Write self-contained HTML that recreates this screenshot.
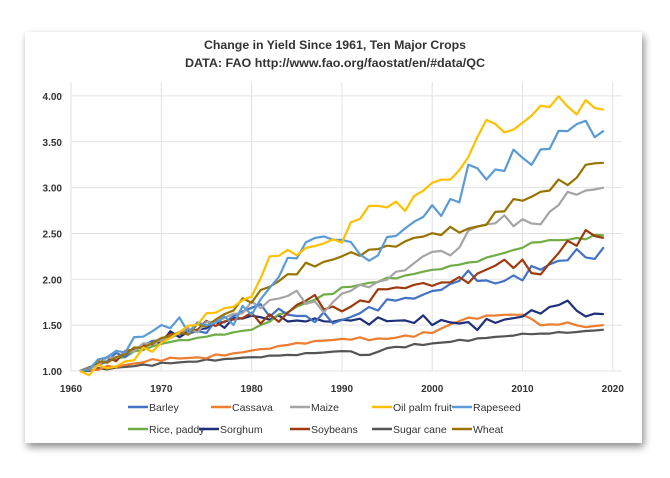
<!DOCTYPE html>
<html><head><meta charset="utf-8"><style>
html,body{margin:0;padding:0;background:#fff;width:670px;height:478px;overflow:hidden}
svg{display:block;font-family:"Liberation Sans",sans-serif}
</style></head><body>
<svg id="s" width="670" height="478" viewBox="0 0 670 478">
<defs><filter id="sh" x="-5%" y="-5%" width="110%" height="115%"><feDropShadow dx="2" dy="4" stdDeviation="4" flood-color="#000" flood-opacity="0.45"/></filter></defs>
<rect x="25" y="32" width="617" height="411" fill="#fff" filter="url(#sh)"/>
<text x="335" y="49" text-anchor="middle" font-size="12" font-weight="bold" fill="#333" textLength="262" lengthAdjust="spacingAndGlyphs">Change in Yield Since 1961, Ten Major Crops</text>
<text x="335" y="67" text-anchor="middle" font-size="12" font-weight="bold" fill="#333" textLength="300" lengthAdjust="spacingAndGlyphs">DATA: FAO http://www.fao.org/faostat/en/#data/QC</text>
<g id="grid" stroke="#e2e2e2" stroke-width="1"></g>
<g id="lab" font-size="10" font-weight="bold" fill="#333"></g>
<g id="ser" fill="none" stroke-width="2.2" stroke-linejoin="round"></g>
<g id="leg" font-size="10.5" fill="#333"></g>
</svg>
<script>
var X=function(y){return 71+(y-1960)*9.03},Y=function(v){return 371-(v-1)*91.7};
var ns="http://www.w3.org/2000/svg";
function el(p,t,a,txt){var e=document.createElementNS(ns,t);for(var k in a)e.setAttribute(k,a[k]);if(txt)e.textContent=txt;document.getElementById(p).appendChild(e);return e}
for(var v=1;v<=4.001;v+=0.5){el("grid","line",{x1:71,x2:622,y1:Y(v),y2:Y(v)});el("lab","text",{x:62,y:Y(v)+4,"text-anchor":"end"},v.toFixed(2))}
for(var y=1960;y<=2020;y+=10){el("grid","line",{x1:X(y),x2:X(y),y1:Y(4.15),y2:Y(1)});el("lab","text",{x:X(y),y:392,"text-anchor":"middle"},""+y)}
var S=[
["Barley","#4472C4",0.07,[1961,1,1970,1.35,1975,1.45,1980,1.7,1985,1.6,1990,1.55,1995,1.75,2000,1.85,2004,2.05,2007,1.95,2010,2.05,2014,2.2,2017,2.3,2018,2.2,2019,2.35]],
["Cassava","#ED7D31",0.02,[1961,1,1965,1.05,1970,1.13,1975,1.15,1980,1.22,1985,1.3,1990,1.35,1995,1.35,2000,1.42,2003,1.55,2006,1.6,2010,1.62,2012,1.5,2015,1.52,2017,1.48,2019,1.5]],
["Maize","#A5A5A5",0.06,[1961,1,1970,1.35,1975,1.5,1980,1.7,1985,1.85,1988,1.65,1990,1.85,1995,2.0,2000,2.3,2003,2.3,2004,2.55,2008,2.65,2012,2.6,2014,2.85,2016,2.95,2019,3.0]],
["Oil palm fruit","#FFC000",0.06,[1961,1,1965,1.05,1970,1.3,1975,1.6,1980,1.8,1982,2.25,1985,2.3,1990,2.45,1993,2.8,1997,2.8,2000,3.05,2003,3.15,2006,3.75,2008,3.6,2010,3.7,2012,3.87,2014,3.97,2016,3.8,2017,3.95,2019,3.85]],
["Rapeseed","#5B9BD5",0.1,[1961,1,1965,1.2,1970,1.5,1975,1.5,1980,1.65,1985,2.3,1987,2.45,1990,2.45,1993,2.2,1996,2.5,2000,2.75,2003,2.85,2004,3.25,2007,3.1,2009,3.4,2011,3.25,2013,3.5,2017,3.75,2018,3.55,2019,3.62]],
["Rice, paddy","#70AD47",0.02,[1961,1,1970,1.3,1980,1.45,1985,1.7,1990,1.9,1995,2.0,2000,2.1,2005,2.2,2010,2.35,2012,2.42,2015,2.43,2019,2.48]],
["Sorghum","#1F2F7A",0.06,[1961,1,1970,1.35,1980,1.6,1985,1.55,1990,1.55,1995,1.55,2000,1.55,2005,1.5,2010,1.6,2015,1.75,2017,1.6,2019,1.62]],
["Soybeans","#9E3A0E",0.07,[1961,1,1970,1.35,1975,1.5,1980,1.6,1983,1.55,1986,1.8,1990,1.65,1995,1.9,2000,1.95,2004,2.0,2008,2.2,2010,2.15,2012,2.05,2014,2.3,2017,2.5,2019,2.45]],
["Sugar cane","#555555",0.015,[1961,1,1970,1.08,1980,1.15,1985,1.18,1990,1.22,1993,1.17,1995,1.25,2000,1.3,2005,1.35,2010,1.4,2015,1.42,2019,1.45]],
["Wheat","#997300",0.06,[1961,1,1965,1.15,1970,1.35,1975,1.5,1980,1.8,1985,2.1,1990,2.25,1995,2.35,2000,2.5,2004,2.55,2006,2.6,2008,2.8,2011,2.9,2013,3.0,2016,3.1,2017,3.25,2019,3.27]]];
var order=[8,1,6,5,0,7,2,9,4,3];
order.forEach(function(i){var s=S[i],k=s[3],pts=[];
 for(var yr=1961;yr<=2019;yr++){var j=0;while(j+2<k.length&&k[j+2]<yr)j+=2;
  var y0=k[j],v0=k[j+1],y1=k[j+2]||y0,v1=k[j+3]||v0,t=y1>y0?(yr-y0)/(y1-y0):0;
  var v=v0+(v1-v0)*t;if(yr>1961&&yr<2019)v+=s[2]*Math.sin(yr*2.7+i*1.3)*(0.5+0.5*Math.cos(yr*1.1+i));
  pts.push(X(yr).toFixed(1)+","+Y(v).toFixed(1));}
 el("ser","polyline",{points:pts.join(" "),stroke:s[1]});});
var L=[[0,128,411],[1,211,411],[2,290,411],[3,372,411],[4,452,411],[5,128,433],[6,199,433],[7,290,433],[8,372,433],[9,452,433]];
L.forEach(function(l){var s=S[l[0]];el("leg","line",{x1:l[1],x2:l[1]+20,y1:l[2]-4,y2:l[2]-4,stroke:s[1],"stroke-width":2.5});el("leg","text",{x:l[1]+21,y:l[2]},s[0])});
</script>
</body></html>
